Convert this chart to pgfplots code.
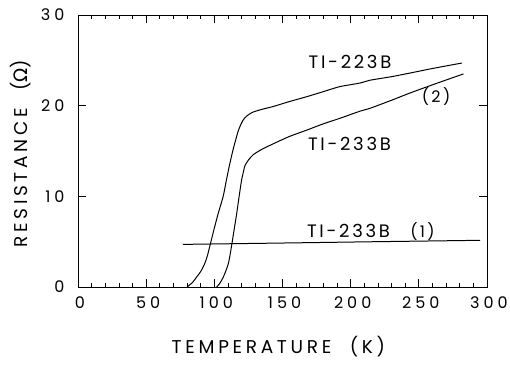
\documentclass[border=0pt]{standalone}
\usepackage{pgfplots}
\pgfplotsset{compat=1.18}
\usepackage{fontspec}
\setmainfont{Poppins}
\newfontfamily\labfont[LetterSpace=15]{Poppins}
\newfontfamily\axfont[LetterSpace=20]{Poppins}
\newfontfamily\tickfont[LetterSpace=25]{Poppins}
\newfontfamily\greek{DejaVu Sans}
\begin{document}
\begin{tikzpicture}[x=1pt,y=1pt]
\useasboundingbox (0,0) rectangle (510,364);
\begin{axis}[
  at={(78pt,77pt)}, anchor=south west, scale only axis,
  width=409pt, height=272pt,
  xmin=0, xmax=300, ymin=0, ymax=30,
  xtick={0,50,...,300}, minor x tick num=4, ytick={0,10,20,30},
  tick align=inside, major tick length=8pt, minor tick length=4pt,
  axis line style={line width=0.7pt},
  every tick/.style={line width=0.7pt, black},
  /pgf/number format/assume math mode=true,
  ticklabel style={font=\tickfont\fontsize{16}{16}\selectfont},
  xticklabel style={yshift=-6pt, xshift=2pt},
  yticklabel style={xshift=-10pt},
  xlabel={TEMPERATURE\quad(K)},
  ylabel={RESISTANCE\ \ ({\greek Ω})},
  xlabel style={at={(axis description cs:0.49,-0.22)}, anchor=center, font=\axfont\fontsize{18.5}{18}\selectfont},
  ylabel style={at={(axis description cs:-0.14,0.49)}, anchor=center, font=\axfont\fontsize{18.5}{18}\selectfont},
]
\addplot[black, line width=1pt, smooth, tension=0.4] coordinates {
(80,0) (84,0.5) (87,1.1) (90,1.7) (93,2.6) (95,3.5) (97,4.7) (100,6.5) (103,8.2) (106.5,10.0) (109,11.9) (111.5,13.7) (114,15.3) (117.5,17.2) (120,18.1) (122,18.6) (125,19.0) (128.6,19.3) (135,19.6) (143,19.9) (155,20.45) (168,21.0) (180,21.55) (192,22.1) (207,22.5) (214,22.8) (230,23.2) (243.6,23.6) (260,24.1) (281.5,24.7)
};
\addplot[black, line width=1pt, smooth, tension=0.4] coordinates {
(101.7,0) (104,0.4) (106.6,1.1) (108.5,1.8) (110.3,2.6) (111.5,3.5) (112.7,4.6) (114.5,6.3) (116.4,8.1) (118,9.8) (120,11.8) (121.5,12.8) (122.5,13.4) (125,14.0) (128.6,14.6) (135,15.2) (143.3,15.8) (155,16.6) (167.7,17.3) (180,18.0) (192,18.6) (207,19.4) (214,19.7) (230,20.6) (243.6,21.4) (260,22.3) (282.7,23.5)
};
\addplot[black, line width=1pt] coordinates {
(77,4.7) (150,4.85) (220,5.0) (295,5.15)
};
\node[anchor=base, font=\labfont\fontsize{18}{18}\selectfont] at (axis cs:199.5,24.15) {TI-223B};
\node[anchor=base, font=\labfont\fontsize{18}{18}\selectfont] at (axis cs:199.1,15.11) {TI-233B};
\node[anchor=base, font=\labfont\fontsize{18}{18}\selectfont] at (axis cs:198.4,5.51) {TI-233B};
\node[anchor=base, font=\labfont\fontsize{16}{16}\selectfont] at (axis cs:252.7,5.51) {(1)};
\node[anchor=base, font=\labfont\fontsize{16}{16}\selectfont] at (axis cs:262.6,20.3) {(2)};
\end{axis}
\end{tikzpicture}
\end{document}
